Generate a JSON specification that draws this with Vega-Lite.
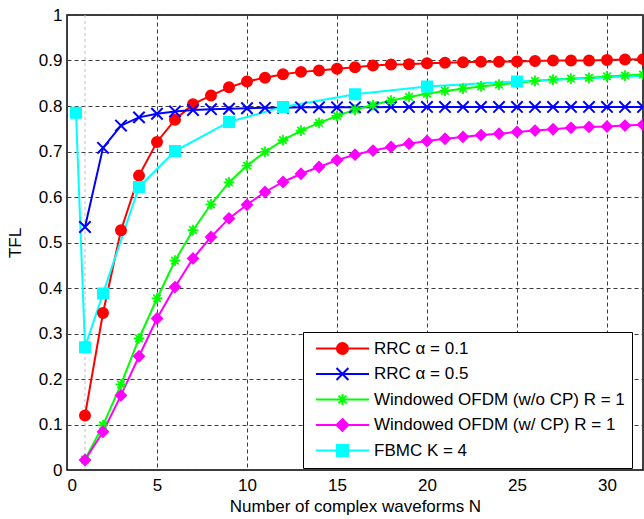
{
  "$schema": "https://vega.github.io/schema/vega-lite/v6.json",
  "width": 576,
  "height": 455,
  "autosize": {"type": "none"},
  "padding": {"left": 67, "top": 15, "right": 1, "bottom": 49},
  "background": "white",
  "config": {
    "font": "Liberation Sans",
    "view": {"stroke": "black", "strokeWidth": 1.5},
    "axis": {
      "labelFont": "Liberation Sans", "labelFontSize": 17, "labelColor": "black",
      "titleFont": "Liberation Sans", "titleFontSize": 17, "titleFontWeight": "normal", "titleColor": "black",
      "grid": true, "gridColor": "#3a3a3a", "gridDash": [4, 3], "gridWidth": 1, "gridOpacity": 1,
      "ticks": false, "domain": false
    }
  },
  "datasets": {
    "curves": [
      {"N": 1, "TFL": 0.120, "s": "RRC α = 0.1"},
      {"N": 2, "TFL": 0.345, "s": "RRC α = 0.1"},
      {"N": 3, "TFL": 0.527, "s": "RRC α = 0.1"},
      {"N": 4, "TFL": 0.647, "s": "RRC α = 0.1"},
      {"N": 5, "TFL": 0.721, "s": "RRC α = 0.1"},
      {"N": 6, "TFL": 0.770, "s": "RRC α = 0.1"},
      {"N": 7, "TFL": 0.804, "s": "RRC α = 0.1"},
      {"N": 8, "TFL": 0.823, "s": "RRC α = 0.1"},
      {"N": 9, "TFL": 0.841, "s": "RRC α = 0.1"},
      {"N": 10, "TFL": 0.854, "s": "RRC α = 0.1"},
      {"N": 11, "TFL": 0.862, "s": "RRC α = 0.1"},
      {"N": 12, "TFL": 0.870, "s": "RRC α = 0.1"},
      {"N": 13, "TFL": 0.875, "s": "RRC α = 0.1"},
      {"N": 14, "TFL": 0.878, "s": "RRC α = 0.1"},
      {"N": 15, "TFL": 0.882, "s": "RRC α = 0.1"},
      {"N": 16, "TFL": 0.885, "s": "RRC α = 0.1"},
      {"N": 17, "TFL": 0.889, "s": "RRC α = 0.1"},
      {"N": 18, "TFL": 0.891, "s": "RRC α = 0.1"},
      {"N": 19, "TFL": 0.892, "s": "RRC α = 0.1"},
      {"N": 20, "TFL": 0.894, "s": "RRC α = 0.1"},
      {"N": 21, "TFL": 0.895, "s": "RRC α = 0.1"},
      {"N": 22, "TFL": 0.896, "s": "RRC α = 0.1"},
      {"N": 23, "TFL": 0.897, "s": "RRC α = 0.1"},
      {"N": 24, "TFL": 0.897, "s": "RRC α = 0.1"},
      {"N": 25, "TFL": 0.898, "s": "RRC α = 0.1"},
      {"N": 26, "TFL": 0.899, "s": "RRC α = 0.1"},
      {"N": 27, "TFL": 0.900, "s": "RRC α = 0.1"},
      {"N": 28, "TFL": 0.900, "s": "RRC α = 0.1"},
      {"N": 29, "TFL": 0.900, "s": "RRC α = 0.1"},
      {"N": 30, "TFL": 0.901, "s": "RRC α = 0.1"},
      {"N": 31, "TFL": 0.902, "s": "RRC α = 0.1"},
      {"N": 32, "TFL": 0.903, "s": "RRC α = 0.1"},
      {"N": 1, "TFL": 0.534, "s": "RRC α = 0.5"},
      {"N": 2, "TFL": 0.708, "s": "RRC α = 0.5"},
      {"N": 3, "TFL": 0.757, "s": "RRC α = 0.5"},
      {"N": 4, "TFL": 0.775, "s": "RRC α = 0.5"},
      {"N": 5, "TFL": 0.783, "s": "RRC α = 0.5"},
      {"N": 6, "TFL": 0.788, "s": "RRC α = 0.5"},
      {"N": 7, "TFL": 0.791, "s": "RRC α = 0.5"},
      {"N": 8, "TFL": 0.793, "s": "RRC α = 0.5"},
      {"N": 9, "TFL": 0.794, "s": "RRC α = 0.5"},
      {"N": 10, "TFL": 0.795, "s": "RRC α = 0.5"},
      {"N": 11, "TFL": 0.796, "s": "RRC α = 0.5"},
      {"N": 12, "TFL": 0.796, "s": "RRC α = 0.5"},
      {"N": 13, "TFL": 0.797, "s": "RRC α = 0.5"},
      {"N": 14, "TFL": 0.797, "s": "RRC α = 0.5"},
      {"N": 15, "TFL": 0.797, "s": "RRC α = 0.5"},
      {"N": 16, "TFL": 0.797, "s": "RRC α = 0.5"},
      {"N": 17, "TFL": 0.797, "s": "RRC α = 0.5"},
      {"N": 18, "TFL": 0.798, "s": "RRC α = 0.5"},
      {"N": 19, "TFL": 0.798, "s": "RRC α = 0.5"},
      {"N": 20, "TFL": 0.798, "s": "RRC α = 0.5"},
      {"N": 21, "TFL": 0.798, "s": "RRC α = 0.5"},
      {"N": 22, "TFL": 0.798, "s": "RRC α = 0.5"},
      {"N": 23, "TFL": 0.798, "s": "RRC α = 0.5"},
      {"N": 24, "TFL": 0.798, "s": "RRC α = 0.5"},
      {"N": 25, "TFL": 0.798, "s": "RRC α = 0.5"},
      {"N": 26, "TFL": 0.798, "s": "RRC α = 0.5"},
      {"N": 27, "TFL": 0.798, "s": "RRC α = 0.5"},
      {"N": 28, "TFL": 0.798, "s": "RRC α = 0.5"},
      {"N": 29, "TFL": 0.798, "s": "RRC α = 0.5"},
      {"N": 30, "TFL": 0.798, "s": "RRC α = 0.5"},
      {"N": 31, "TFL": 0.798, "s": "RRC α = 0.5"},
      {"N": 32, "TFL": 0.798, "s": "RRC α = 0.5"},
      {"N": 1, "TFL": 0.023, "s": "Windowed OFDM (w/o CP) R = 1"},
      {"N": 2, "TFL": 0.098, "s": "Windowed OFDM (w/o CP) R = 1"},
      {"N": 3, "TFL": 0.188, "s": "Windowed OFDM (w/o CP) R = 1"},
      {"N": 4, "TFL": 0.289, "s": "Windowed OFDM (w/o CP) R = 1"},
      {"N": 5, "TFL": 0.377, "s": "Windowed OFDM (w/o CP) R = 1"},
      {"N": 6, "TFL": 0.460, "s": "Windowed OFDM (w/o CP) R = 1"},
      {"N": 7, "TFL": 0.527, "s": "Windowed OFDM (w/o CP) R = 1"},
      {"N": 8, "TFL": 0.584, "s": "Windowed OFDM (w/o CP) R = 1"},
      {"N": 9, "TFL": 0.632, "s": "Windowed OFDM (w/o CP) R = 1"},
      {"N": 10, "TFL": 0.669, "s": "Windowed OFDM (w/o CP) R = 1"},
      {"N": 11, "TFL": 0.699, "s": "Windowed OFDM (w/o CP) R = 1"},
      {"N": 12, "TFL": 0.725, "s": "Windowed OFDM (w/o CP) R = 1"},
      {"N": 13, "TFL": 0.746, "s": "Windowed OFDM (w/o CP) R = 1"},
      {"N": 14, "TFL": 0.763, "s": "Windowed OFDM (w/o CP) R = 1"},
      {"N": 15, "TFL": 0.778, "s": "Windowed OFDM (w/o CP) R = 1"},
      {"N": 16, "TFL": 0.792, "s": "Windowed OFDM (w/o CP) R = 1"},
      {"N": 17, "TFL": 0.802, "s": "Windowed OFDM (w/o CP) R = 1"},
      {"N": 18, "TFL": 0.812, "s": "Windowed OFDM (w/o CP) R = 1"},
      {"N": 19, "TFL": 0.820, "s": "Windowed OFDM (w/o CP) R = 1"},
      {"N": 20, "TFL": 0.827, "s": "Windowed OFDM (w/o CP) R = 1"},
      {"N": 21, "TFL": 0.833, "s": "Windowed OFDM (w/o CP) R = 1"},
      {"N": 22, "TFL": 0.838, "s": "Windowed OFDM (w/o CP) R = 1"},
      {"N": 23, "TFL": 0.843, "s": "Windowed OFDM (w/o CP) R = 1"},
      {"N": 24, "TFL": 0.847, "s": "Windowed OFDM (w/o CP) R = 1"},
      {"N": 25, "TFL": 0.851, "s": "Windowed OFDM (w/o CP) R = 1"},
      {"N": 26, "TFL": 0.855, "s": "Windowed OFDM (w/o CP) R = 1"},
      {"N": 27, "TFL": 0.858, "s": "Windowed OFDM (w/o CP) R = 1"},
      {"N": 28, "TFL": 0.860, "s": "Windowed OFDM (w/o CP) R = 1"},
      {"N": 29, "TFL": 0.862, "s": "Windowed OFDM (w/o CP) R = 1"},
      {"N": 30, "TFL": 0.865, "s": "Windowed OFDM (w/o CP) R = 1"},
      {"N": 31, "TFL": 0.867, "s": "Windowed OFDM (w/o CP) R = 1"},
      {"N": 32, "TFL": 0.869, "s": "Windowed OFDM (w/o CP) R = 1"},
      {"N": 1, "TFL": 0.022, "s": "Windowed OFDM (w/ CP) R = 1"},
      {"N": 2, "TFL": 0.084, "s": "Windowed OFDM (w/ CP) R = 1"},
      {"N": 3, "TFL": 0.164, "s": "Windowed OFDM (w/ CP) R = 1"},
      {"N": 4, "TFL": 0.250, "s": "Windowed OFDM (w/ CP) R = 1"},
      {"N": 5, "TFL": 0.333, "s": "Windowed OFDM (w/ CP) R = 1"},
      {"N": 6, "TFL": 0.402, "s": "Windowed OFDM (w/ CP) R = 1"},
      {"N": 7, "TFL": 0.465, "s": "Windowed OFDM (w/ CP) R = 1"},
      {"N": 8, "TFL": 0.512, "s": "Windowed OFDM (w/ CP) R = 1"},
      {"N": 9, "TFL": 0.553, "s": "Windowed OFDM (w/ CP) R = 1"},
      {"N": 10, "TFL": 0.583, "s": "Windowed OFDM (w/ CP) R = 1"},
      {"N": 11, "TFL": 0.611, "s": "Windowed OFDM (w/ CP) R = 1"},
      {"N": 12, "TFL": 0.633, "s": "Windowed OFDM (w/ CP) R = 1"},
      {"N": 13, "TFL": 0.651, "s": "Windowed OFDM (w/ CP) R = 1"},
      {"N": 14, "TFL": 0.666, "s": "Windowed OFDM (w/ CP) R = 1"},
      {"N": 15, "TFL": 0.681, "s": "Windowed OFDM (w/ CP) R = 1"},
      {"N": 16, "TFL": 0.693, "s": "Windowed OFDM (w/ CP) R = 1"},
      {"N": 17, "TFL": 0.702, "s": "Windowed OFDM (w/ CP) R = 1"},
      {"N": 18, "TFL": 0.710, "s": "Windowed OFDM (w/ CP) R = 1"},
      {"N": 19, "TFL": 0.717, "s": "Windowed OFDM (w/ CP) R = 1"},
      {"N": 20, "TFL": 0.723, "s": "Windowed OFDM (w/ CP) R = 1"},
      {"N": 21, "TFL": 0.728, "s": "Windowed OFDM (w/ CP) R = 1"},
      {"N": 22, "TFL": 0.732, "s": "Windowed OFDM (w/ CP) R = 1"},
      {"N": 23, "TFL": 0.736, "s": "Windowed OFDM (w/ CP) R = 1"},
      {"N": 24, "TFL": 0.739, "s": "Windowed OFDM (w/ CP) R = 1"},
      {"N": 25, "TFL": 0.743, "s": "Windowed OFDM (w/ CP) R = 1"},
      {"N": 26, "TFL": 0.746, "s": "Windowed OFDM (w/ CP) R = 1"},
      {"N": 27, "TFL": 0.749, "s": "Windowed OFDM (w/ CP) R = 1"},
      {"N": 28, "TFL": 0.752, "s": "Windowed OFDM (w/ CP) R = 1"},
      {"N": 29, "TFL": 0.754, "s": "Windowed OFDM (w/ CP) R = 1"},
      {"N": 30, "TFL": 0.755, "s": "Windowed OFDM (w/ CP) R = 1"},
      {"N": 31, "TFL": 0.757, "s": "Windowed OFDM (w/ CP) R = 1"},
      {"N": 32, "TFL": 0.759, "s": "Windowed OFDM (w/ CP) R = 1"},
      {"N": 0.5, "TFL": 0.785, "s": "FBMC K = 4"},
      {"N": 1, "TFL": 0.270, "s": "FBMC K = 4"},
      {"N": 2, "TFL": 0.388, "s": "FBMC K = 4"},
      {"N": 4, "TFL": 0.622, "s": "FBMC K = 4"},
      {"N": 6, "TFL": 0.701, "s": "FBMC K = 4"},
      {"N": 9, "TFL": 0.765, "s": "FBMC K = 4"},
      {"N": 12, "TFL": 0.798, "s": "FBMC K = 4"},
      {"N": 16, "TFL": 0.826, "s": "FBMC K = 4"},
      {"N": 20, "TFL": 0.843, "s": "FBMC K = 4"},
      {"N": 25, "TFL": 0.854, "s": "FBMC K = 4"},
      {"N": 36, "TFL": 0.874, "s": "FBMC K = 4"}
    ],
    "refline": [{"N": 1}]
  },
  "layer": [
    {
      "data": {"name": "refline"},
      "mark": {"type": "rule", "color": "#bdbdbd", "strokeDash": [3, 3], "strokeWidth": 1},
      "encoding": {
        "x": {"field": "N", "type": "quantitative", "scale": {"domain": [0, 32], "nice": false, "zero": false}}
      }
    },
    {
      "data": {"name": "curves"},
      "mark": {"type": "line", "strokeWidth": 2, "clip": true},
      "encoding": {
        "x": {"field": "N", "type": "quantitative", "scale": {"domain": [0, 32], "nice": false, "zero": false},
          "axis": {"title": "Number of complex waveforms N", "values": [0, 5, 10, 15, 20, 25, 30], "labelPadding": 7, "titlePadding": 5}},
        "y": {"field": "TFL", "type": "quantitative", "scale": {"domain": [0, 1], "nice": false},
          "axis": {"title": "TFL", "values": [0, 0.1, 0.2, 0.3, 0.4, 0.5, 0.6, 0.7, 0.8, 0.9, 1], "labelExpr": "format(datum.value, '.1~f')", "labelPadding": 5, "titlePadding": 14}},
        "color": {
          "field": "s", "type": "nominal",
          "scale": {
            "domain": ["RRC α = 0.1", "RRC α = 0.5", "Windowed OFDM (w/o CP) R = 1", "Windowed OFDM (w/ CP) R = 1", "FBMC K = 4"],
            "range": ["#ff0000", "#0000ff", "#00ff00", "#ff00ff", "#00ffff"]
          },
          "legend": {
            "title": null,
            "orient": "none",
            "legendX": 236,
            "legendY": 317,
            "direction": "vertical",
            "symbolSize": 289,
            "symbolStrokeWidth": 2,
            "labelFont": "Liberation Sans",
            "labelFontSize": 17,
            "labelColor": "black",
            "labelLimit": 400,
            "labelOffset": 45,
            "strokeColor": "black",
            "fillColor": "white",
            "padding": 7,
            "rowPadding": 4.5,
            "encode": {
              "symbols": {
                "update": {
                  "shape": {"signal": "datum.value === 'RRC α = 0.1' ? 'M-0.41,0L5.82,0M3.35,0A0.65,0.65,0,1,1,2.05,0A0.65,0.65,0,1,1,3.35,0Z' : datum.value === 'RRC α = 0.5' ? 'M-0.41,0L5.82,0M2.0,-0.7L3.4,0.7M2.0,0.7L3.4,-0.7' : datum.value === 'Windowed OFDM (w/o CP) R = 1' ? 'M-0.41,0L5.82,0M2.7,-0.65L2.7,0.65M2.24,-0.46L3.16,0.46M2.24,0.46L3.16,-0.46' : datum.value === 'Windowed OFDM (w/ CP) R = 1' ? 'M-0.41,0L5.82,0M2.7,-0.7L3.4,0L2.7,0.7L2.0,0Z' : 'M-0.41,0L5.82,0M2.05,-0.65L3.35,-0.65L3.35,0.65L2.05,0.65Z'"},
                  "fill": {"scale": "color", "field": "value"},
                  "stroke": {"scale": "color", "field": "value"},
                  "strokeWidth": {"value": 2}
                }
              }
            }
          }
        }
      }
    },
    {
      "data": {"name": "curves"},
      "transform": [{"filter": {"field": "s", "equal": "RRC α = 0.1"}}],
      "mark": {"type": "point", "shape": "circle", "size": 110, "filled": true, "fill": "#ff0000", "stroke": "#ff0000", "strokeWidth": 1.5, "opacity": 1, "clip": true},
      "encoding": {
        "x": {"field": "N", "type": "quantitative"},
        "y": {"field": "TFL", "type": "quantitative"}
      }
    },
    {
      "data": {"name": "curves"},
      "transform": [{"filter": {"field": "s", "equal": "RRC α = 0.5"}}],
      "mark": {"type": "point", "shape": "M-1,-1L1,1M-1,1L1,-1", "size": 130, "filled": false, "stroke": "#0000ff", "strokeWidth": 2, "opacity": 1, "clip": true},
      "encoding": {
        "x": {"field": "N", "type": "quantitative"},
        "y": {"field": "TFL", "type": "quantitative"}
      }
    },
    {
      "data": {"name": "curves"},
      "transform": [{"filter": {"field": "s", "equal": "Windowed OFDM (w/o CP) R = 1"}}],
      "mark": {"type": "point", "shape": "M-1,0L1,0M0,-1L0,1M-0.7,-0.7L0.7,0.7M-0.7,0.7L0.7,-0.7", "size": 115, "filled": false, "stroke": "#00ff00", "strokeWidth": 1.8, "opacity": 1, "clip": true},
      "encoding": {
        "x": {"field": "N", "type": "quantitative"},
        "y": {"field": "TFL", "type": "quantitative"}
      }
    },
    {
      "data": {"name": "curves"},
      "transform": [{"filter": {"field": "s", "equal": "Windowed OFDM (w/ CP) R = 1"}}],
      "mark": {"type": "point", "shape": "diamond", "size": 115, "filled": true, "fill": "#ff00ff", "stroke": "#ff00ff", "strokeWidth": 1.5, "opacity": 1, "clip": true},
      "encoding": {
        "x": {"field": "N", "type": "quantitative"},
        "y": {"field": "TFL", "type": "quantitative"}
      }
    },
    {
      "data": {"name": "curves"},
      "transform": [{"filter": {"field": "s", "equal": "FBMC K = 4"}}],
      "mark": {"type": "point", "shape": "square", "size": 110, "filled": true, "fill": "#00ffff", "stroke": "#00ffff", "strokeWidth": 1.5, "opacity": 1, "clip": true},
      "encoding": {
        "x": {"field": "N", "type": "quantitative"},
        "y": {"field": "TFL", "type": "quantitative"}
      }
    }
  ]
}
